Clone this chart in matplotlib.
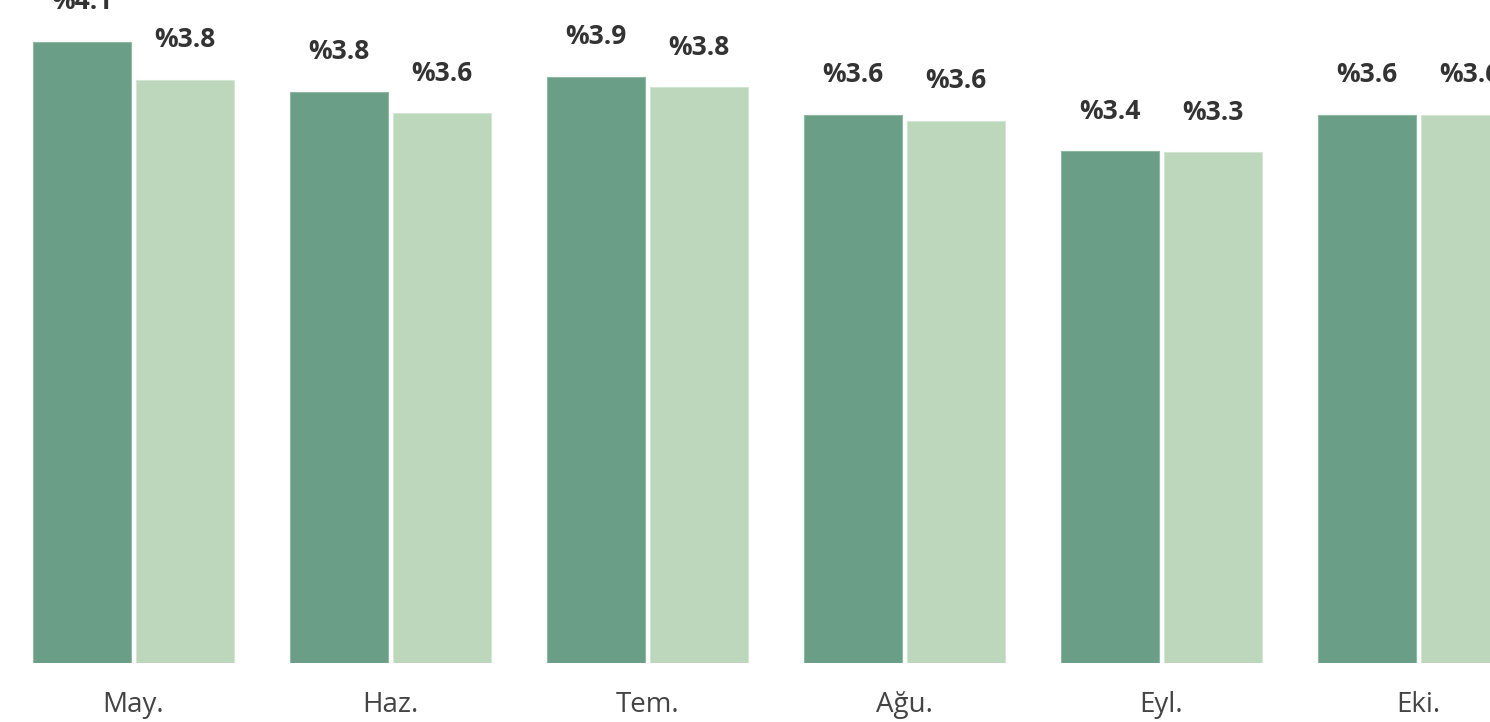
import matplotlib
matplotlib.use("Agg")
import matplotlib.pyplot as plt
import numpy as np

months = ["May.", "Haz.", "Tem.", "Ağu.", "Eyl.", "Eki."]
dark_vals = [4.10, 3.77, 3.87, 3.62, 3.38, 3.62]
light_vals = [3.85, 3.63, 3.80, 3.58, 3.37, 3.62]
dark_labels = ["%4.1", "%3.8", "%3.9", "%3.6", "%3.4", "%3.6"]
light_labels = ["%3.8", "%3.6", "%3.8", "%3.6", "%3.3", "%3.6"]

DARK, LIGHT = "#6a9e87", "#bcd7bc"
W, OFF = 0.381, 0.2

plt.rcParams["font.family"] = ["Open Sans", "DejaVu Sans"]
fig = plt.figure(figsize=(14.9, 7.22), dpi=100)
ax = fig.add_axes([0, 59 / 722, 1, 663 / 722])
x = np.arange(len(months))
b1 = ax.bar(x - OFF, dark_vals, W, color=DARK, edgecolor="#8fb8a3", linewidth=0.8)
b2 = ax.bar(x + OFF, light_vals, W, color=LIGHT, edgecolor="#d3e6d3", linewidth=0.8)
for bars, vals, labs in ((b1, dark_vals, dark_labels), (b2, light_vals, light_labels)):
    for b, v, t in zip(bars, vals, labs):
        ax.annotate(t, (b.get_x() + b.get_width() / 2, v), xytext=(0, 19),
                    textcoords="offset points", ha="center", va="bottom",
                    fontsize=19, fontweight="bold", color="#333333", annotation_clip=False)

ax.set_xlim(-133.5 / 257, (1490 - 133.5) / 257)
ax.set_ylim(0, 663 / 151.5)
ax.set_xticks(x)
ax.set_xticklabels(months, fontsize=20, color="#444444")
ax.tick_params(axis="x", length=0, pad=20)
ax.set_yticks([])
for s in ax.spines.values():
    s.set_visible(False)
fig.savefig("out.png", dpi=100)
